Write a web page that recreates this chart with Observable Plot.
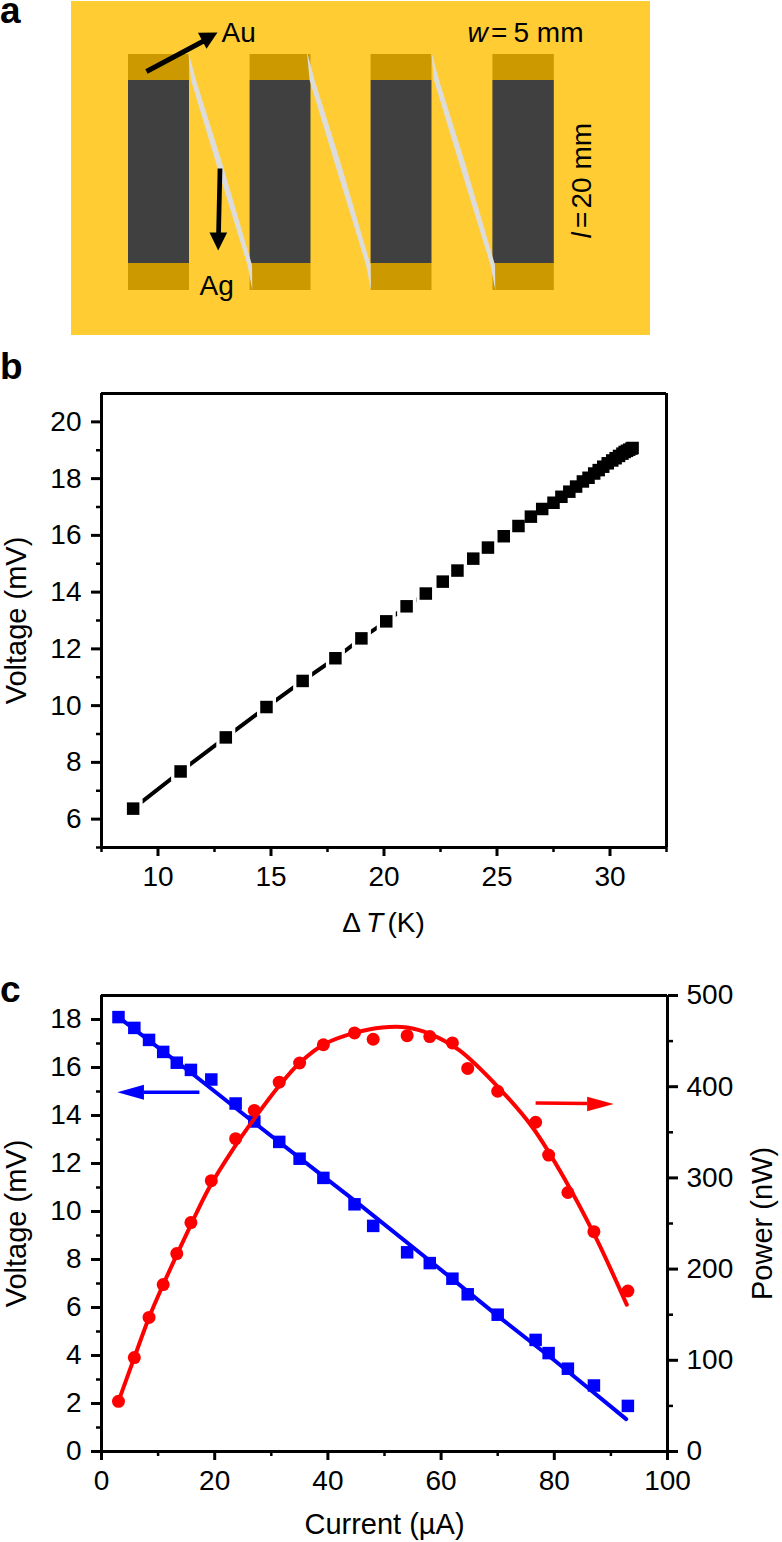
<!DOCTYPE html>
<html><head><meta charset="utf-8">
<script src="https://cdn.jsdelivr.net/npm/d3@7"></script>
<script src="https://cdn.jsdelivr.net/npm/@observablehq/plot@0.6"></script>
<style>
html,body{margin:0;padding:0;background:#fff}
#page{position:relative;width:782px;height:1542px;overflow:hidden;font-family:"Liberation Sans",Arial,sans-serif}
#page svg{position:absolute;left:0;background:transparent;overflow:visible}
.letter{position:absolute;left:0;font:bold 37px "Liberation Sans",Arial,sans-serif;line-height:22px;color:#000}
</style></head><body><div id="page"></div>
<script>
// Panel a: device schematic
const colLeft=[128,249.6,370.6,492.4], colRight=[189,310.5,431.5,553.8];
const padTop=[54,80], dark=[80,263], padBottom=[263,290];
const stripY=[54,80,165,265,290];
const stripLeft=[188.5,191,216.7,247.5,252.3];
const stripRight=[189,196,222.7,252,252.3];
const stripShift=[0,118.6,243];
// Panel b
const dT=[8.9,11,13,14.8,16.4,17.85,19,20.1,21,21.85,22.6,23.25,23.95,24.6,25.3,25.95,26.5,27,27.5,27.85,28.2,28.5,28.8,29.05,29.3,29.5,29.7,29.9,30.1,30.25,30.4,30.55,30.65,30.75,30.85,30.95,31];
const voltB=[6.37,7.68,8.88,9.95,10.87,11.67,12.37,12.97,13.5,13.95,14.37,14.76,15.18,15.57,15.97,16.33,16.66,16.93,17.15,17.36,17.54,17.72,17.9,18.03,18.18,18.3,18.42,18.54,18.64,18.72,18.8,18.88,18.94,18.98,19.02,19.06,19.08];
// Panel c
const current=[3,5.8,8.4,10.9,13.3,15.8,19.4,23.7,27,31.4,35,39.2,44.7,48,54,58,62,64.7,70,76.7,79,82.4,87,93];
const voltC=[18.1,17.65,17.15,16.65,16.2,15.9,15.5,14.5,13.75,12.9,12.2,11.4,10.3,9.4,8.3,7.85,7.2,6.55,5.7,4.65,4.1,3.45,2.75,1.9];
const power=[55,103,147,183,217,251,297,343,374,405,426,446,459,452,456,455,448,420,395,361,325,284,241,176];
const fitVX=[3,16,27,45,58,70,80,92.7], fitV=[18.1,15.75,13.7,10.4,7.95,5.65,3.8,1.35];
const fitPX=[3,5.8,8.4,10.9,15.6,19,23.4,27,31.4,35,39.5,44.7,49.6,54,58,63.2,70.3,76.2,82,87.3,92.8];
const fitP=[55,103,147,183,246,289,333,365,401,426,447,459,465,465,458,440,398,355,297,235,161];

const font={fontFamily:'"Liberation Sans",Arial,sans-serif',fontSize:"28px",color:"#000",background:"transparent"};
const page=document.getElementById("page");
function place(svg,top){svg.style.top=top+"px";page.appendChild(svg);}
const sq=side=>side/Math.sqrt(Math.PI);
const W=3, noLabel=()=>"";
const axisOpts={tickSize:5,strokeWidth:2.5,label:null,tickFormat:noLabel};
const labelOpts={ticks:[],labelAnchor:"center",labelArrow:"none",fontSize:29};

// ---------- a
const rectRows=(a,b)=>colLeft.map((l,i)=>({x1:l,x2:colRight[i],y1:a,y2:b}));
const stripMarks=stripShift.map(s=>Plot.areaX(stripY,{y:stripY,x1:stripLeft.map(v=>v+s),x2:stripRight.map(v=>v+s),fill:"#dcdcdc"}));
function txt(t,x,y,o={}){return Plot.text([t],{x:()=>x,y:()=>y,text:d=>d,fill:"#000",textAnchor:"start",...o});}
function poly(xs,ys,fill){return Plot.line(xs,{x:xs,y:ys,fill,stroke:"none"});}
function shaft(xs,ys,color,w){return Plot.line(xs,{x:xs,y:ys,stroke:color,strokeWidth:w,strokeLinecap:"butt"});}
place(Plot.plot({width:782,height:340,margin:0,style:font,
  x:{domain:[0,782],range:[0,782],axis:null},y:{domain:[0,340],range:[0,340],axis:null},
  marks:[
    Plot.rect([0],{x1:()=>71,x2:()=>650,y1:()=>1,y2:()=>335,fill:"#ffcc33"}),
    Plot.rect(rectRows(...padTop),{x1:"x1",x2:"x2",y1:"y1",y2:"y2",fill:"#cc9900"}),
    Plot.rect(rectRows(...padBottom),{x1:"x1",x2:"x2",y1:"y1",y2:"y2",fill:"#cc9900"}),
    Plot.rect(rectRows(...dark),{x1:"x1",x2:"x2",y1:"y1",y2:"y2",fill:"#404040"}),
    ...stripMarks,
    shaft([146,206],[71,39],"#000",5),
    poly([217,197.5,206],[32,32.3,48.3],"#000"),
    shaft([219.5,218],[168,235],"#000",4.7),
    poly([217.7,209,226.7],[250,232,232],"#000"),
    txt("Au",221,32.4),
    txt("Ag",199,286),
    txt("w",467,32.4,{fontStyle:"italic"}),
    txt("=",490.5,32.4),
    txt("5 mm",513,32.4),
    txt("l",581.5,238,{rotate:-90,fontStyle:"italic"}),
    txt("=",581.5,227.5,{rotate:-90}),
    txt("20 mm",581.5,208,{rotate:-90})
  ]}),0);

// ---------- b
const b={left:101,right:116,top:33,bottom:113};
place(Plot.plot({width:782,height:600,marginLeft:b.left,marginRight:b.right,marginTop:b.top,marginBottom:b.bottom,style:font,
  x:{domain:[7.5,32.5]},y:{domain:[5,21]},
  marks:[
    Plot.ruleY([21],{strokeWidth:W}),Plot.ruleX([32.5],{strokeWidth:W}),
    Plot.ruleY([5],{strokeWidth:W}),Plot.ruleX([7.5],{strokeWidth:W}),
    Plot.axisX({ticks:[7.5,12.5,17.5,22.5,27.5,32.5],...axisOpts}),
    Plot.axisY({ticks:[5,7,9,11,13,15,17,19],...axisOpts}),
    Plot.axisX({ticks:[10,15,20,25,30],tickSize:9,tickPadding:10,strokeWidth:3,label:null}),
    Plot.axisY({ticks:[6,8,10,12,14,16,18,20],tickSize:10,tickPadding:10,strokeWidth:3,label:null}),
    Plot.axisY({...labelOpts,label:"Voltage (mV)",labelOffset:96}),
    Plot.line(dT,{x:dT,y:voltB,stroke:"#000",strokeWidth:4}),
    Plot.dot(dT,{x:dT,y:voltB,symbol:"square",r:sq(19),fill:"#fff",stroke:"none"}),
    Plot.dot(dT,{x:dT,y:voltB,symbol:"square",r:sq(12.5),fill:"#000",stroke:"none"}),
    txt("Δ",18.15,2.33),
    txt("T",19.2,2.33,{fontStyle:"italic"}),
    txt("(K)",20.15,2.33)
  ]}),360);

// ---------- c
const c={left:101,right:115,top:35,bottom:91};
place(Plot.plot({width:782,height:582,marginLeft:c.left,marginRight:c.right,marginTop:c.top,marginBottom:c.bottom,style:font,
  x:{domain:[0,100]},y:{domain:[0,19]},
  marks:[
    Plot.ruleY([19],{strokeWidth:W}),Plot.ruleX([100],{strokeWidth:W}),
    Plot.ruleY([0],{strokeWidth:W}),Plot.ruleX([0],{strokeWidth:W}),
    Plot.axisX({ticks:[10,30,50,70,90],...axisOpts}),
    Plot.axisY({ticks:[1,3,5,7,9,11,13,15,17],...axisOpts}),
    Plot.axisX({ticks:[0,20,40,60,80,100],tickSize:9,tickPadding:10,strokeWidth:3,label:null}),
    Plot.axisY({ticks:[0,2,4,6,8,10,12,14,16,18],tickSize:10,tickPadding:10,strokeWidth:3,label:null}),
    Plot.axisX({...labelOpts,label:"Current (µA)",labelOffset:82}),
    Plot.axisY({...labelOpts,label:"Voltage (mV)",labelOffset:96}),
    Plot.line(fitVX,{x:fitVX,y:fitV,stroke:"#0000ff",strokeWidth:4}),
    Plot.dot(current,{x:current,y:voltC,symbol:"square",r:sq(12.5),fill:"#0000ff",stroke:"none"}),
    shaft([17.3,7.5],[14.97,14.97],"#0000ff",3.5),
    poly([2.8,7.5,7.5],[14.97,15.28,14.66],"#0000ff")
  ]}),960);
place(Plot.plot({width:782,height:582,marginLeft:c.left,marginRight:c.right,marginTop:c.top,marginBottom:c.bottom,style:font,
  x:{domain:[0,100],axis:null},y:{domain:[0,500],axis:null},
  marks:[
    Plot.axisY({anchor:"right",ticks:[50,150,250,350,450],...axisOpts}),
    Plot.axisY({anchor:"right",ticks:[0,100,200,300,400,500],tickSize:10,tickPadding:9,strokeWidth:3,label:null}),
    Plot.axisY({...labelOpts,anchor:"right",label:"Power (nW)",labelOffset:104}),
    Plot.line(fitPX,{x:fitPX,y:fitP,stroke:"#ff0000",strokeWidth:4,curve:"catmull-rom"}),
    Plot.dot(current,{x:current,y:power,r:6.5,fill:"#ff0000",stroke:"none"}),
    shaft([76.7,85.8],[382,381.5],"#ff0000",3.5),
    poly([90.5,85.8,85.8],[381,389,373],"#ff0000")
  ]}),960);

[["a",0],["b",356],["c",979]].forEach(([t,y])=>{const d=document.createElement("div");d.className="letter";d.textContent=t;d.style.top=y+"px";page.appendChild(d);});
</script></body></html>
